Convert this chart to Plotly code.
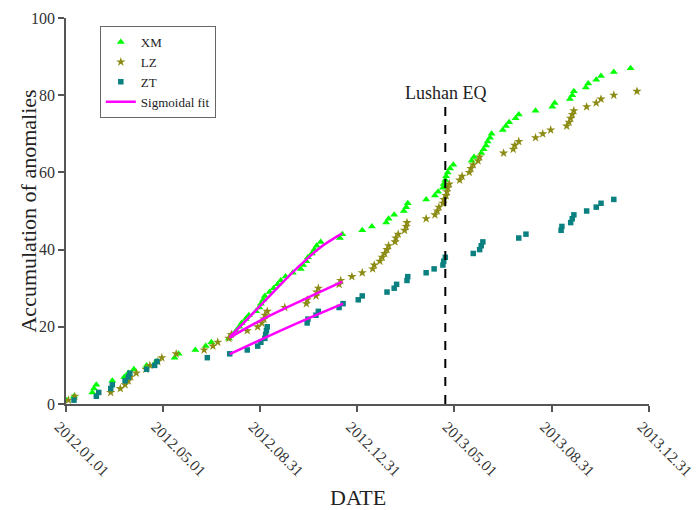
import pandas as pd
import plotly.graph_objects as go

START = "2012-01-01"

# Day offsets (days since 2012-01-01) and cumulative anomaly counts
xm_days = [1, 10, 33, 35, 38, 58, 73, 78, 85, 101, 113, 136, 141, 162, 175, 182, 204,
           208, 213, 217, 220, 225, 229, 238, 242, 244, 247, 249, 255, 260, 265, 269, 275, 284, 294,
           297, 301, 303, 308, 311, 314, 319, 343, 346,
           371, 383, 401, 404, 411, 423, 426, 428, 451, 462, 466, 472, 473, 475, 476, 478, 481, 485,
           508, 511, 520, 523, 526, 528, 531, 533, 547, 551, 555, 563, 567, 588, 609, 612, 631, 634,
           636, 651, 654, 664, 670, 686, 707]
xm_vals = list(range(1, 88))

lz_days = [3, 11, 56, 68, 74, 78, 81, 88, 100, 105, 115, 120, 138, 173, 184, 190, 204, 207, 227, 240,
           245, 248, 249, 252, 274, 301, 302, 313, 314, 316, 342, 344, 358, 371, 384, 386, 393, 396, 399, 402,
           404, 412, 413, 416, 424, 426, 427, 451, 462, 465, 467, 472, 473, 476, 477, 478, 480, 493, 496, 505,
           507, 510, 516, 518, 548, 560, 562, 567, 588, 597, 607, 627, 630, 632, 634, 636, 652, 664, 670, 686,
           715]
lz_vals = list(range(1, 82))

zt_days = [10, 38, 41, 56, 58, 74, 78, 80, 101, 111, 114, 177, 205, 227, 240, 244, 249, 250, 251, 252,
           302, 303, 313, 316, 342, 347, 366, 371, 402, 411, 414, 427, 428, 451, 461, 472, 473, 475, 510, 518,
           520, 522, 567, 576, 620, 621, 632, 634, 636, 652, 664, 670, 686]
zt_vals = list(range(1, 54))

# Sigmoidal fit curves
xm_fit_days = [205, 243, 280, 293, 318, 346]
xm_fit_vals = [17.3, 25.4, 33.3, 35.9, 40.5, 44.2]
lz_fit_days = [205, 243, 293, 346]
lz_fit_vals = [17.2, 21.6, 26.6, 31.7]
zt_fit_days = [205, 275, 347]
zt_fit_vals = [12.9, 19.6, 26.0]

eq_date = "2013-04-20"
eq_line_vals = [0, 78.5]
eq_label = "Lushan EQ"
eq_label_y = 80.6

tick_dates = ["2012-01-01", "2012-05-01", "2012-08-31", "2012-12-31",
              "2013-05-01", "2013-08-31", "2013-12-31"]
tick_text = ["2012.01.01", "2012.05.01", "2012.08.31", "2012.12.31",
             "2013.05.01", "2013.08.31", "2013.12.31"]
y_ticks = [0, 20, 40, 60, 80, 100]


def to_dates(days):
    base = pd.Timestamp(START)
    return [(base + pd.Timedelta(days=d)).strftime("%Y-%m-%d") for d in days]


FONT = "Liberation Serif, Times New Roman, serif"
AXC = "#555555"

fig = go.Figure()
fig.add_trace(go.Scatter(x=to_dates(xm_days), y=xm_vals, mode="markers", name="XM",
                         marker=dict(symbol="triangle-up", size=7, color="#00FF00")))
fig.add_trace(go.Scatter(x=to_dates(lz_days), y=lz_vals, mode="markers", name="LZ",
                         marker=dict(symbol="star", size=7, color="#8C8C14")))
fig.add_trace(go.Scatter(x=to_dates(zt_days), y=zt_vals, mode="markers", name="ZT",
                         marker=dict(symbol="square", size=5.5, color="#0A8080")))

fit_x = to_dates(xm_fit_days) + [None] + to_dates(lz_fit_days) + [None] + to_dates(zt_fit_days)
fit_y = xm_fit_vals + [None] + lz_fit_vals + [None] + zt_fit_vals
fig.add_trace(go.Scatter(x=fit_x, y=fit_y, mode="lines", name="Sigmoidal fit",
                         line=dict(color="#FF00FF", width=2.5, shape="spline"), connectgaps=False))

fig.add_trace(go.Scatter(x=[eq_date, eq_date], y=eq_line_vals, mode="lines", showlegend=False,
                         line=dict(color="black", width=2, dash="dash"), hoverinfo="skip"))
fig.add_annotation(x=eq_date, y=eq_label_y, text=eq_label, showarrow=False,
                   xanchor="center", yanchor="middle",
                   font=dict(family=FONT, size=18, color="#222222"))

# Axis titles as annotations for precise placement
fig.add_annotation(x=-0.066, y=0.5, xref="paper", yref="paper", text="Accumulation of anomalies",
                   textangle=-90, showarrow=False, xanchor="center", yanchor="middle",
                   font=dict(family=FONT, size=22, color="#222222"))
fig.add_annotation(x=0.5, y=-0.241, xref="paper", yref="paper", text="DATE",
                   showarrow=False, xanchor="center", yanchor="middle",
                   font=dict(family=FONT, size=22, color="#222222"))

fig.update_layout(
    width=696, height=510,
    margin=dict(l=66, r=47, t=18, b=106),
    paper_bgcolor="white", plot_bgcolor="white",
    font=dict(family=FONT, color="#333333"),
    legend=dict(x=0.058, y=0.979, xanchor="left", yanchor="top",
                bordercolor="#666666", borderwidth=1, bgcolor="white",
                font=dict(family=FONT, size=13, color="#222222"),
                tracegroupgap=0, itemwidth=30),
    xaxis=dict(type="date", range=["2012-01-01", "2013-12-31 02:00"], automargin=False,
               tickvals=tick_dates, ticktext=tick_text, tickangle=45,
               ticklabeloverflow="allow", ticklabelshift=-7,
               tickfont=dict(family=FONT, size=15.5, color="#333333"),
               showline=True, linecolor=AXC, linewidth=1.5,
               ticks="outside", ticklen=6, tickcolor=AXC, tickwidth=1.5,
               showgrid=False, zeroline=False),
    yaxis=dict(range=[0, 100], tickvals=y_ticks, automargin=False,
               tickfont=dict(family=FONT, size=16, color="#333333"),
               showline=True, linecolor=AXC, linewidth=1.5,
               ticks="outside", ticklen=6, tickcolor=AXC, tickwidth=1.5,
               showgrid=False, zeroline=False),
)

fig.write_html("out.html", config={"displayModeBar": False},
               post_script="document.body.style.margin='0px';document.body.style.padding='0px';"
                           "document.body.style.overflow='hidden';")
